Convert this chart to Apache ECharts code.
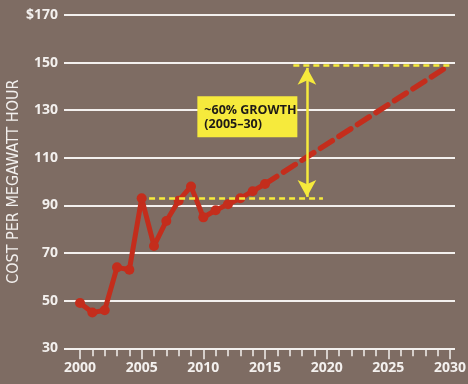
<!DOCTYPE html>
<html><head><meta charset="utf-8">
<script src="https://cdn.jsdelivr.net/npm/echarts@6/dist/echarts.min.js"></script>
<style>html,body{margin:0;padding:0;background:#7e6c63}#c{width:468px;height:384px}</style>
</head><body><div id="c"></div>
<script>
// Historical cost per megawatt hour
var years = [2000,2001,2002,2003,2004,2005,2006,2007,2008,2009,2010,2011,2012,2013,2014,2015];
var costs = [49,45,46,64,63,93,73,83.5,92,98,85,88,90.5,93,96,99];
// Projection
var projYears = [2015, 2030];
var projCosts = [99, 149];
// Annotation values
var baseLevel = 93, topLevel = 149;
var annotationText = ['~60% GROWTH', '(2005\u201330)'];
// Axis ticks
var yTicks = [30,50,70,90,110,130,150,170];
var xFirst = 2000, xLast = 2030, xMajorStep = 5, xMinorStep = 1;

var BG = '#7e6c63', WHITE = '#f3f0ee', RED = '#c42d1c', YEL = '#f6ea3c';
var lblFont = '"Open Sans", "DejaVu Sans", sans-serif';

var chart = echarts.init(document.getElementById('c'));
var tickAxis = {type:'value', min:xFirst, max:xLast, gridIndex:1, position:'bottom',
  axisLine:{show:true, onZero:false, lineStyle:{color:WHITE, width:2}}, splitLine:{show:false}};
chart.setOption({
  backgroundColor: BG,
  animation: false,
  grid: [
    {left:64, right:13, top:15, bottom:35.7, containLabel:false, outerBoundsMode:'none'},
    {left:80, right:18, top:15, bottom:35.7, containLabel:false, outerBoundsMode:'none'}
  ],
  xAxis: [
    {type:'value', min:1998.7, max:2030.41, gridIndex:0, show:false},
    Object.assign({}, tickAxis, {interval:xMinorStep,
      axisTick:{show:true, inside:false, length:8, lineStyle:{color:WHITE, width:1.5}},
      axisLabel:{show:false}}),
    Object.assign({}, tickAxis, {interval:xMajorStep,
      axisTick:{show:true, inside:false, length:11, lineStyle:{color:WHITE, width:1.5}},
      axisLabel:{show:true, color:WHITE, fontFamily:lblFont, fontWeight:'bold', fontSize:14, margin:13,
        formatter:function(v){return String(v);}}})
  ],
  yAxis: [
    {type:'value', min:30, max:170, interval:20, gridIndex:0,
    axisLine:{show:false}, axisTick:{show:false},
    splitLine:{show:true, lineStyle:{color:WHITE, width:2}},
    axisLabel:{color:WHITE, fontFamily:lblFont, fontWeight:'bold', fontSize:14, margin:6,
      formatter:function(v){return v === yTicks[yTicks.length-1] ? '$' + v : String(v);}},
    name:'COST PER MEGAWATT HOUR', nameLocation:'middle', nameRotate:90, nameGap:42, nameMoveOverlap:false,
    nameTextStyle:{color:WHITE, fontFamily:'"Liberation Sans Narrow", "DejaVu Sans Condensed", "Roboto", sans-serif', fontSize:16, fontWeight:500}},
    {type:'value', min:30, max:170, gridIndex:1, show:false}
  ],
  series: [
    {type:'line', xAxisIndex:0, yAxisIndex:0, data: projYears.map(function(x,i){return [x, projCosts[i]];}),
      showSymbol:false, symbol:'none',
      lineStyle:{color:RED, width:5.5, type:[14,8], cap:'round'},
      z:2,
      markLine:{silent:true, symbol:'none', label:{show:false},
        lineStyle:{color:YEL, width:2.5, type:[6,4]},
        data:[
          [{coord:[2005.6, baseLevel]},{coord:[2019.7, baseLevel]}],
          [{coord:[2017.3, topLevel]},{coord:[2030, topLevel]}],
          [{coord:[2018.4, baseLevel+0.6], symbol:'arrow', symbolSize:[14,17], lineStyle:{type:'solid', width:2.5}},
           {coord:[2018.4, topLevel-1.2], symbol:'arrow', symbolSize:[14,17]}]
        ]},
      markPoint:{silent:true, data:[{coord:[2013.57, 127.3], symbol:'rect', symbolSize:[100,41],
        itemStyle:{color:YEL},
        label:{show:true, position:[7,7], align:'left', verticalAlign:'top', formatter:annotationText.join('\n'),
          color:'#1e1a17', fontFamily:lblFont, fontWeight:'bold', fontSize:12.5, lineHeight:14}}]}
    },
    {type:'line', xAxisIndex:0, yAxisIndex:0, data: years.map(function(x,i){return [x, costs[i]];}),
      symbol:'circle', symbolSize:10, showSymbol:true,
      lineStyle:{color:RED, width:5}, itemStyle:{color:RED}, z:3}
  ]
});
</script></body></html>
